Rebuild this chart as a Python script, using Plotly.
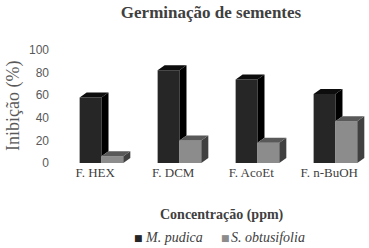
import plotly.graph_objects as go

categories = ["F. HEX", "F. DCM", "F. AcoEt", "F. n-BuOH"]
series_names = ["M. pudica", "S. obtusifolia"]
m_pudica = [58, 82, 74, 61]
s_obtusifolia = [6, 20, 18, 37]
y_ticks = [0, 20, 40, 60, 80, 100]

# geometry / style constants
W = 0.28          # bar front width (x units)
OFF_M = -0.06     # centre offset of M. pudica bar from tick
OFF_S = 0.22      # centre offset of S. obtusifolia bar from tick
DX = 0.09         # 3D depth, x units
DY = 4.4          # 3D depth, y units
C_M = "#262626"
C_S = "#8c8c8c"
L_MARGIN, PLOT_W = 50, 319

idx = list(range(len(categories)))
xm = [i + OFF_M for i in idx]
xs = [i + OFF_S for i in idx]

fig = go.Figure()

fig.add_trace(go.Bar(x=xm, y=m_pudica, width=W, name=series_names[0],
                     marker=dict(color=C_M, line=dict(width=0))))
fig.add_trace(go.Bar(x=xs, y=s_obtusifolia, width=W, name=series_names[1],
                     marker=dict(color=C_S, line=dict(width=0))))


def poly_trace(px, py, color):
    return go.Scatter(x=px, y=py, mode="lines", line=dict(width=0, color=color),
                      fill="toself", fillcolor=color, showlegend=False,
                      hoverinfo="skip", cliponaxis=False)


# M. pudica side (only the part above the neighbouring bar) and top
sx, sy, tx, ty = [], [], [], []
for c, v, vs in zip(xm, m_pudica, s_obtusifolia):
    x0, x1 = c - W / 2, c + W / 2
    low = min(vs, v)
    sx += [x1, x1 + DX, x1 + DX, x1, x1, None]
    sy += [low, low + DY, v + DY, v, low, None]
    tx += [x0, x0 + DX, x1 + DX, x1, x0, None]
    ty += [v, v + DY, v + DY, v, v, None]
fig.add_trace(poly_trace(sx, sy, "#000000"))
fig.add_trace(poly_trace(tx, ty, "#0d0d0d"))

# S. obtusifolia side and top
sx, sy, tx, ty = [], [], [], []
for c, v in zip(xs, s_obtusifolia):
    x0, x1 = c - W / 2, c + W / 2
    sx += [x1, x1 + DX, x1 + DX, x1, x1, None]
    sy += [0, DY, v + DY, v, 0, None]
    tx += [x0, x0 + DX, x1 + DX, x1, x0, None]
    ty += [v, v + DY, v + DY, v, v, None]
fig.add_trace(poly_trace(sx, sy, "#404040"))
fig.add_trace(poly_trace(tx, ty, "#595959"))


def px2paper(px):
    return (px - L_MARGIN) / PLOT_W


LEG_Y = -0.655
legend_annots = []
for name, color, sq_px, txt_px in [(series_names[0], C_M, 138.5, 143),
                                   (series_names[1], C_S, 225, 229)]:
    legend_annots.append(dict(
        text="■", xref="paper", yref="paper", x=px2paper(sq_px), y=LEG_Y - 0.005,
        xanchor="center", yanchor="middle", showarrow=False,
        font=dict(family="DejaVu Sans", size=9, color=color)))
    legend_annots.append(dict(
        text=f"<i>{name}</i>", xref="paper", yref="paper", x=px2paper(txt_px),
        y=LEG_Y, xanchor="left", yanchor="middle", showarrow=False,
        font=dict(family="Liberation Serif", size=14, color="#404040")))

fig.update_layout(
    width=369, height=248,
    margin=dict(l=L_MARGIN, r=0, t=50, b=85, autoexpand=False),
    paper_bgcolor="white", plot_bgcolor="white",
    barmode="overlay",
    showlegend=False,
    title=dict(text="<b>Germinação de sementes</b>", x=211 / 369, xanchor="center",
               y=0.952, yanchor="middle", yref="container",
               font=dict(family="Liberation Serif", size=17, color="#404040")),
    xaxis=dict(range=[-0.58, 3.51], tickmode="array", tickvals=idx,
               ticktext=categories, showgrid=False, zeroline=False,
               showline=False, ticks="", automargin=False,
               tickfont=dict(family="Liberation Serif", size=13, color="#404040")),
    yaxis=dict(range=[0, 100], tickmode="array", tickvals=y_ticks,
               showgrid=False, zeroline=False, showline=False, ticks="",
               automargin=False,
               tickfont=dict(family="Liberation Sans", size=12, color="#595959")),
    annotations=[
        dict(text="<b>Concentração (ppm)</b>", xref="paper", yref="paper",
             x=0.539, y=-0.46, xanchor="center", yanchor="middle", showarrow=False,
             font=dict(family="Liberation Serif", size=14, color="#404040")),
        dict(text="Inibição (%)", xref="paper", yref="paper", x=-0.116, y=0.504,
             xanchor="center", yanchor="middle", textangle=-90, showarrow=False,
             font=dict(family="Liberation Serif", size=18, color="#595959")),
    ] + legend_annots,
)

fig.write_html("out.html", config={"displayModeBar": False},
               post_script="document.body.style.margin='0px';"
                           "document.body.style.overflow='hidden';")
